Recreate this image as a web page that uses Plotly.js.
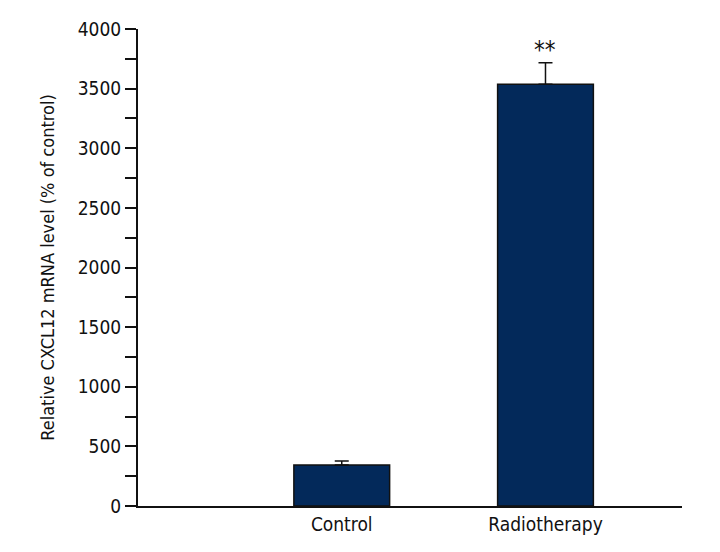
<!DOCTYPE html>
<html>
<head>
<meta charset="utf-8">
<script src="https://cdn.plot.ly/plotly-3.0.1.min.js"></script>
<style>
  html, body { margin:0; padding:0; background:#fff; }
  #chart { width:720px; height:552px; }
</style>
</head>
<body>
<div id="chart"></div>
<script>
// CXCL12 mRNA level, control vs radiotherapy
const groups = ['Control', 'Radiotherapy'];
const levels = [344, 3536];
const errUp  = [33, 181];
const marks  = ['', '**'];

const FONT = 'DejaVu Sans Condensed, DejaVu Sans, sans-serif';
const txt = (size) => ({ family: FONT, size: size, color: '#111', stretch: 'condensed' });

const trace = {
  type: 'bar', x: groups, y: levels, width: 0.47,
  marker: { color: '#03295a', line: { color: '#111', width: 1.5 } },
  error_y: { type: 'data', array: errUp, arrayminus: groups.map(() => 0), symmetric: false,
             color: '#111', thickness: 1.5, width: 7 },
  hoverinfo: 'x+y'
};

const annotations = groups.map((g, i) => ({
  x: g, y: levels[i] + errUp[i], text: marks[i], showarrow: false,
  yanchor: 'bottom', yshift: -3, font: txt(24)
})).filter(a => a.text);

const layout = {
  paper_bgcolor: '#fff', plot_bgcolor: '#fff',
  margin: { l: 138, r: 38, t: 29, b: 46 },
  showlegend: false,
  font: txt(19),
  xaxis: {
    type: 'category', range: [-1.0, 1.67],
    showline: true, linecolor: '#111', linewidth: 2,
    ticks: '', showgrid: false, zeroline: false,
    tickfont: txt(19)
  },
  yaxis: {
    range: [0, 4000], dtick: 500, tick0: 0,
    showline: true, linecolor: '#111', linewidth: 2,
    ticks: 'outside', ticklen: 11, tickwidth: 2, tickcolor: '#111',
    minor: { dtick: 250, ticks: 'outside', ticklen: 11, tickwidth: 2, tickcolor: '#111' },
    showgrid: false, zeroline: false,
    tickfont: txt(19),
    title: { text: 'Relative CXCL12 mRNA level (% of control)', standoff: 18, font: txt(18) }
  },
  annotations: annotations
};

Plotly.newPlot('chart', [trace], layout, { displayModeBar: false, staticPlot: true });
</script>
</body>
</html>
